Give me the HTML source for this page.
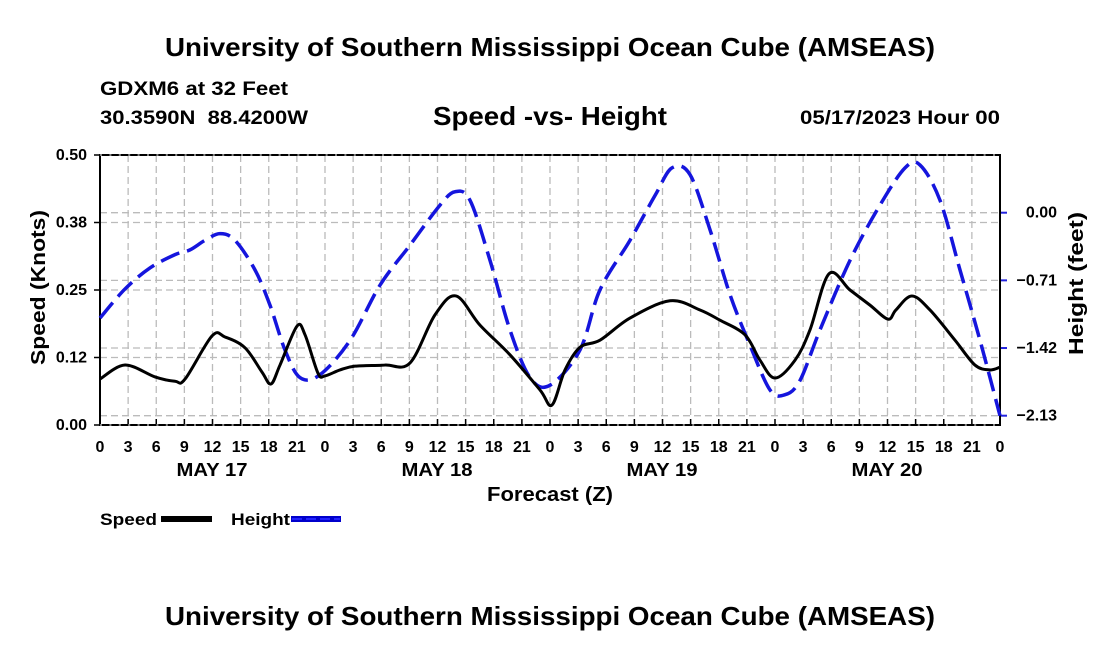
<!DOCTYPE html>
<html><head><meta charset="utf-8"><style>
body{margin:0;background:#fff;}
svg{display:block;font-family:"Liberation Sans",Arial,sans-serif;font-weight:bold;}
</style></head><body>
<svg id="c" width="1100" height="650">
<text x="165" y="56" font-size="26" textLength="770" lengthAdjust="spacingAndGlyphs">University of Southern Mississippi Ocean Cube (AMSEAS)</text>
<text x="100" y="95" font-size="19" textLength="188" lengthAdjust="spacingAndGlyphs">GDXM6 at 32 Feet</text>
<text x="100" y="124" font-size="19" textLength="208" lengthAdjust="spacingAndGlyphs" xml:space="preserve">30.3590N  88.4200W</text>
<text x="433" y="125" font-size="26" textLength="234" lengthAdjust="spacingAndGlyphs">Speed -vs- Height</text>
<text x="800" y="124" font-size="19" textLength="200" lengthAdjust="spacingAndGlyphs">05/17/2023 Hour 00</text>
<g id="grid"></g>
<g id="axes"></g>
<g id="series"></g>
<text x="487" y="501" font-size="20" textLength="126" lengthAdjust="spacingAndGlyphs">Forecast (Z)</text>
<text transform="translate(45,365) rotate(-90)" font-size="20" textLength="155" lengthAdjust="spacingAndGlyphs">Speed (Knots)</text>
<text transform="translate(1083,355) rotate(-90)" font-size="20" textLength="143" lengthAdjust="spacingAndGlyphs">Height (feet)</text>
<g>
<text x="100" y="525" font-size="17" textLength="57" lengthAdjust="spacingAndGlyphs">Speed</text>
<rect x="161" y="516" width="51" height="6" fill="#000"/>
<text x="231" y="525" font-size="17" textLength="59" lengthAdjust="spacingAndGlyphs">Height</text>
<line x1="291" y1="519" x2="341" y2="519" stroke="#0000cc" stroke-width="6"/>
<line x1="292" y1="519" x2="340" y2="519" stroke="#2222ff" stroke-width="2" stroke-dasharray="10,4"/>
</g>
<text x="165" y="625" font-size="26" textLength="770" lengthAdjust="spacingAndGlyphs">University of Southern Mississippi Ocean Cube (AMSEAS)</text>
</svg>
<script>
const speedHours=[0,2.67,5.87,8,9.07,11.95,13.33,15.47,17.28,18.24,19.2,21.01,21.87,23.25,24,25.6,27.2,30.4,33.07,35.73,37.97,40.53,43.73,46.93,48.21,49.6,51.2,53.33,56.53,60.8,64,66.13,68.8,70.4,72,74.13,75.73,77.76,80,82.13,84.05,84.9,86.6,88.53,91.2,93.33,94.93,96];
const speedValues=[.085,.111,.089,.081,.085,.165,.163,.143,.098,.076,.111,.183,.167,.096,.091,.102,.109,.111,.115,.204,.239,.185,.130,.065,.037,.102,.144,.157,.198,.230,.213,.194,.167,.120,.087,.120,.176,.280,.250,.222,.196,.213,.239,.213,.157,.111,.102,.107];
const heightHours=[0,2.67,5.33,8,9.6,11.2,12.8,14.4,16.53,18.13,19.73,21.33,23.47,26.67,29.87,33.07,36.27,37.87,39.47,41.6,43.73,45.87,48,51.2,53.33,56.53,59.2,61.01,62.93,65.07,67.2,69.33,71.47,73.07,74.67,76.8,80,83.2,85.87,87.47,89.6,91.73,93.87,96];
const heightValues=[-1.105,-0.80,-0.58,-0.44,-0.39,-0.29,-0.22,-0.29,-0.60,-0.97,-1.44,-1.73,-1.70,-1.34,-0.76,-0.34,0.08,0.22,0.13,-0.50,-1.23,-1.73,-1.81,-1.44,-0.81,-0.29,0.18,0.47,0.40,-0.18,-0.86,-1.39,-1.86,-1.91,-1.76,-1.23,-0.50,0.08,0.47,0.50,0.13,-0.60,-1.34,-2.13];
const xTickLabels=["0","3","6","9","12","15","18","21"];
const dayLabels=["MAY 17","MAY 18","MAY 19","MAY 20"];
const speedTicks=[0,0.125,0.25,0.375,0.5];
const speedTickLabels=["0.00","0.12","0.25","0.38","0.50"];
const heightTicks=[0,-0.71,-1.42,-2.13];
const heightTickLabels=["0.00","\u22120.71","\u22121.42","\u22122.13"];
const X0=100,X1=1000,Y0=425,Y1=155;
const xs=h=>X0+(X1-X0)*h/96;
const ys=v=>Y0-(Y0-Y1)*v/0.5;
const yh=v=>212.7-95.3*v;
const NS="http://www.w3.org/2000/svg";
function mk(tag,attrs,parent){const e=document.createElementNS(NS,tag);for(const k in attrs)e.setAttribute(k,attrs[k]);parent.appendChild(e);return e;}
const grid=document.getElementById('grid'),axes=document.getElementById('axes'),ser=document.getElementById('series');
for(let h=0;h<=96;h+=3){
  const g=mk('line',{x1:xs(h),x2:xs(h),y1:Y1,y2:Y0,stroke:'#bbb','stroke-width':1.3,'stroke-dasharray':'7,4'},grid);
  
  
  const t=mk('line',{x1:xs(h),x2:xs(h),y1:Y0,y2:Y0-6,stroke:'#000','stroke-width':1.5},axes);
  
  
  const lb=mk('text',{x:xs(h),y:452,'text-anchor':'middle','font-size':16},axes);
  lb.textContent=xTickLabels[(h/3)%8];
  
  
}
dayLabels.forEach((d,i)=>{const t=mk('text',{x:xs(i*24+12)-36,y:476,'font-size':18,textLength:71,lengthAdjust:'spacingAndGlyphs'},axes);t.textContent=d;
  
  });
speedTicks.forEach((v,i)=>{
  if(i>0&&i<4){const g=mk('line',{x1:X0,x2:X1,y1:ys(v),y2:ys(v),stroke:'#bbb','stroke-width':1.3,'stroke-dasharray':'7,4'},grid);
  
  }
  const t=mk('line',{x1:X0-6,x2:X0,y1:ys(v),y2:ys(v),stroke:'#000','stroke-width':1.5},axes);
  
  
  const lb=mk('text',{x:X0-13,y:ys(v)+5,'text-anchor':'end','font-size':16},axes);lb.textContent=speedTickLabels[i];
  
  
});
heightTicks.forEach((v,i)=>{
  const g=mk('line',{x1:X0,x2:X1,y1:yh(v),y2:yh(v),stroke:'#bbb','stroke-width':1.3,'stroke-dasharray':'7,4'},grid);
  
  
  const t=mk('line',{x1:X1,x2:X1+7,y1:yh(v),y2:yh(v),stroke:'#2222dd','stroke-width':2},axes);
  
  
  const lb=mk('text',{x:X1+57,y:yh(v)+5,'text-anchor':'end','font-size':16},axes);lb.textContent=heightTickLabels[i];
  
  
});
const fr=mk('rect',{x:X0,y:Y1,width:X1-X0,height:Y0-Y1,fill:'none',stroke:'#000','stroke-width':2},axes);


[Y1,Y0].forEach(y=>{const d=mk('line',{x1:X0,x2:X1,y1:y,y2:y,stroke:'#fff','stroke-width':1,'stroke-dasharray':'2,7.4'},axes);
  
  });
function smooth(pts){let d=`M${pts[0][0]},${pts[0][1]}`;
  for(let i=0;i<pts.length-1;i++){const p0=pts[i-1]||pts[i],p1=pts[i],p2=pts[i+1],p3=pts[i+2]||p2;
    d+=`C${p1[0]+(p2[0]-p0[0])/6},${p1[1]+(p2[1]-p0[1])/6} ${p2[0]-(p3[0]-p1[0])/6},${p2[1]-(p3[1]-p1[1])/6} ${p2[0]},${p2[1]}`;}
  return d;}
const hp=mk('path',{d:smooth(heightHours.map((h,i)=>[xs(h),yh(heightValues[i])])),fill:'none',stroke:'#1515dd','stroke-width':3.5,'stroke-dasharray':'20,8'},ser);


const sp=mk('path',{d:smooth(speedHours.map((h,i)=>[xs(h),ys(speedValues[i])])),fill:'none',stroke:'#000','stroke-width':3},ser);


</script>
</body></html>
